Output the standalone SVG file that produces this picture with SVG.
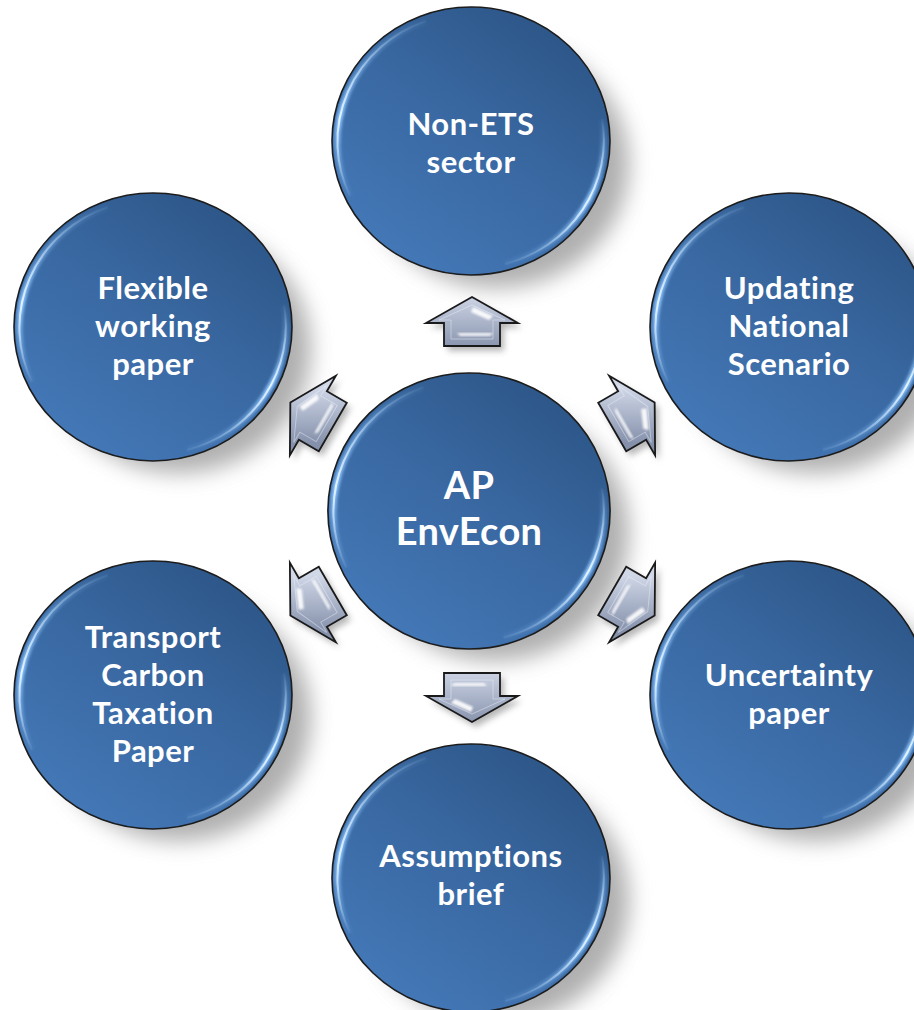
<svg xmlns="http://www.w3.org/2000/svg" width="914" height="1010" viewBox="0 0 914 1010">
  <defs>
    <style>
      .label { font-family: "Lato", "Liberation Sans", sans-serif; font-weight: 700; fill: #ffffff; text-anchor: middle; }
      .outer { font-size: 31px; letter-spacing: 0.5px; }
      .hub { font-size: 38px; letter-spacing: 0.3px; }
      .edge { fill: none; stroke: #1c1c1c; stroke-width: 1.6; }
      .arrow-body { stroke: #1a1a1a; stroke-width: 1.8; stroke-linejoin: miter; }
      .glint { fill: #ffffff; filter: url(#soft); }
    </style>

    <!-- sphere face: lighter at lower left, deeper blue at upper right -->
    <linearGradient id="ballFill" gradientUnits="userSpaceOnUse" x1="-90" y1="125" x2="90" y2="-125">
      <stop offset="0" stop-color="#4479b8"/>
      <stop offset="0.5" stop-color="#3a69a3"/>
      <stop offset="1" stop-color="#2c5586"/>
    </linearGradient>
    <linearGradient id="rimLeft" gradientUnits="userSpaceOnUse" x1="0" y1="60" x2="0" y2="-125">
      <stop offset="0" stop-color="#d4ecff" stop-opacity="0"/>
      <stop offset="0.45" stop-color="#e4f3ff" stop-opacity="1"/>
      <stop offset="1" stop-color="#d4ecff" stop-opacity="0"/>
    </linearGradient>
    <linearGradient id="rimRight" gradientUnits="userSpaceOnUse" x1="0" y1="-25" x2="0" y2="128">
      <stop offset="0" stop-color="#d4ecff" stop-opacity="0"/>
      <stop offset="0.55" stop-color="#e4f3ff" stop-opacity="1"/>
      <stop offset="1" stop-color="#d4ecff" stop-opacity="0"/>
    </linearGradient>
    <linearGradient id="rimGlowLeft" gradientUnits="userSpaceOnUse" x1="0" y1="60" x2="0" y2="-125">
      <stop offset="0" stop-color="#7fb8f0" stop-opacity="0"/>
      <stop offset="0.45" stop-color="#8fc6ff" stop-opacity="1"/>
      <stop offset="1" stop-color="#7fb8f0" stop-opacity="0"/>
    </linearGradient>
    <linearGradient id="rimGlowRight" gradientUnits="userSpaceOnUse" x1="0" y1="-25" x2="0" y2="128">
      <stop offset="0" stop-color="#7fb8f0" stop-opacity="0"/>
      <stop offset="0.55" stop-color="#8fc6ff" stop-opacity="1"/>
      <stop offset="1" stop-color="#7fb8f0" stop-opacity="0"/>
    </linearGradient>

    <filter id="soft" x="-20%" y="-20%" width="140%" height="140%">
      <feGaussianBlur stdDeviation="1.1"/>
    </filter>
    <filter id="glow" x="-20%" y="-20%" width="140%" height="140%">
      <feGaussianBlur stdDeviation="1.6"/>
    </filter>
    <filter id="castShadow" x="-50%" y="-50%" width="200%" height="200%">
      <feGaussianBlur stdDeviation="11"/>
    </filter>
    <filter id="arrowShadow" x="-50%" y="-50%" width="200%" height="200%">
      <feGaussianBlur stdDeviation="3"/>
    </filter>

    <!-- arrow face: light on top, slate below, kept screen-aligned per rotation -->
    <linearGradient id="arrowFill" gradientUnits="userSpaceOnUse" x1="0" y1="-28" x2="0" y2="28">
      <stop offset="0" stop-color="#d0d7e7"/>
      <stop offset="1" stop-color="#8591ab"/>
    </linearGradient>
    <linearGradient id="arrowFill60" href="#arrowFill" gradientTransform="rotate(-60)"/>
    <linearGradient id="arrowFill120" href="#arrowFill" gradientTransform="rotate(-120)"/>
    <linearGradient id="arrowFill180" href="#arrowFill" gradientTransform="rotate(-180)"/>
    <linearGradient id="arrowFill240" href="#arrowFill" gradientTransform="rotate(-240)"/>
    <linearGradient id="arrowFill300" href="#arrowFill" gradientTransform="rotate(-300)"/>

    <!-- glossy disc, centred on the origin -->
    <g id="ball">
      <ellipse rx="139" ry="134" fill="url(#ballFill)"/>
      <path d="M -121 55 A 133 128 0 0 1 -45 -120" fill="none" stroke="url(#rimGlowLeft)" stroke-width="6" filter="url(#glow)"/>
      <path d="M -121 55 A 133 128 0 0 1 -45 -120" fill="none" stroke="url(#rimLeft)" stroke-width="2"/>
      <path d="M 131 -22 A 133 128 0 0 1 34 123" fill="none" stroke="url(#rimGlowRight)" stroke-width="6" filter="url(#glow)"/>
      <path d="M 131 -22 A 133 128 0 0 1 34 123" fill="none" stroke="url(#rimRight)" stroke-width="2"/>
      <ellipse rx="139" ry="134" class="edge"/>
    </g>

    <!-- upward block arrow, centred on the origin -->
    <polygon id="arrowShape" points="0,-25 46,1 28,1 28,24 -28,24 -28,1 -46,1"/>
    <g id="arrowGlints">
      <polygon class="glint" points="1,-15 21,-6 17,-2 -1,-10" opacity="0.9"/>
      <polygon class="glint" points="-15,11 21,11 18,14 -12,14" opacity="0.85"/>
      <polygon points="0,-17 33,-2 21,-2 21,17 -21,17 -21,-2 -33,-2" fill="none" stroke="#eef2fa" stroke-width="1" opacity="0.45"/>
    </g>
  </defs>

  <rect width="914" height="1010" fill="#ffffff"/>

  <!-- soft cast shadows beneath the discs -->
  <g id="shadows" fill="#7a7a7a" opacity="0.6" filter="url(#castShadow)">
    <ellipse cx="497" cy="164" rx="132" ry="124"/>
    <ellipse cx="815" cy="349" rx="132" ry="124"/>
    <ellipse cx="815" cy="717" rx="132" ry="124"/>
    <ellipse cx="497" cy="900" rx="132" ry="124"/>
    <ellipse cx="179" cy="717" rx="132" ry="124"/>
    <ellipse cx="179" cy="349" rx="132" ry="124"/>
    <ellipse cx="495" cy="533" rx="134" ry="128"/>
  </g>

  <!-- connectors: six bevelled arrows radiating from the hub -->
  <g id="connectors">
    <g transform="translate(472,322)">
      <use href="#arrowShape" transform="translate(4,5)" fill="#6f6f6f" opacity="0.5" filter="url(#arrowShadow)"/>
      <use href="#arrowShape" class="arrow-body" fill="url(#arrowFill)"/>
      <use href="#arrowGlints"/>
    </g>
    <g transform="translate(633,415) rotate(60)">
      <use href="#arrowShape" transform="rotate(-60) translate(4,5) rotate(60)" fill="#6f6f6f" opacity="0.5" filter="url(#arrowShadow)"/>
      <use href="#arrowShape" class="arrow-body" fill="url(#arrowFill60)"/>
      <use href="#arrowGlints"/>
    </g>
    <g transform="translate(633,603) rotate(120)">
      <use href="#arrowShape" transform="rotate(-120) translate(4,5) rotate(120)" fill="#6f6f6f" opacity="0.5" filter="url(#arrowShadow)"/>
      <use href="#arrowShape" class="arrow-body" fill="url(#arrowFill120)"/>
      <use href="#arrowGlints"/>
    </g>
    <g transform="translate(472,697) rotate(180)">
      <use href="#arrowShape" transform="rotate(-180) translate(4,5) rotate(180)" fill="#6f6f6f" opacity="0.5" filter="url(#arrowShadow)"/>
      <use href="#arrowShape" class="arrow-body" fill="url(#arrowFill180)"/>
      <use href="#arrowGlints"/>
    </g>
    <g transform="translate(312,603) rotate(240)">
      <use href="#arrowShape" transform="rotate(-240) translate(4,5) rotate(240)" fill="#6f6f6f" opacity="0.5" filter="url(#arrowShadow)"/>
      <use href="#arrowShape" class="arrow-body" fill="url(#arrowFill240)"/>
      <use href="#arrowGlints"/>
    </g>
    <g transform="translate(312,415) rotate(300)">
      <use href="#arrowShape" transform="rotate(-300) translate(4,5) rotate(300)" fill="#6f6f6f" opacity="0.5" filter="url(#arrowShadow)"/>
      <use href="#arrowShape" class="arrow-body" fill="url(#arrowFill300)"/>
      <use href="#arrowGlints"/>
    </g>
  </g>

  <!-- nodes -->
  <g id="node-non-ets" transform="translate(471,141)">
    <use href="#ball"/>
    <text class="label outer" y="-6">Non-ETS</text>
    <text class="label outer" y="32">sector</text>
  </g>

  <g id="node-updating" transform="translate(789,327)">
    <use href="#ball"/>
    <text class="label outer" y="-28">Updating</text>
    <text class="label outer" y="10">National</text>
    <text class="label outer" y="48">Scenario</text>
  </g>

  <g id="node-uncertainty" transform="translate(789,695)">
    <use href="#ball"/>
    <text class="label outer" y="-9">Uncertainty</text>
    <text class="label outer" y="29">paper</text>
  </g>

  <g id="node-assumptions" transform="translate(471,878)">
    <use href="#ball"/>
    <text class="label outer" y="-11">Assumptions</text>
    <text class="label outer" y="27">brief</text>
  </g>

  <g id="node-transport" transform="translate(153,695)">
    <use href="#ball"/>
    <text class="label outer" y="-47">Transport</text>
    <text class="label outer" y="-9">Carbon</text>
    <text class="label outer" y="29">Taxation</text>
    <text class="label outer" y="67">Paper</text>
  </g>

  <g id="node-flexible" transform="translate(153,327)">
    <use href="#ball"/>
    <text class="label outer" y="-28">Flexible</text>
    <text class="label outer" y="10">working</text>
    <text class="label outer" y="48">paper</text>
  </g>

  <g id="node-hub" transform="translate(469,511)">
    <use href="#ball" transform="scale(1.015,1.03)"/>
    <text class="label hub" y="-12">AP</text>
    <text class="label hub" y="34">EnvEcon</text>
  </g>
</svg>
